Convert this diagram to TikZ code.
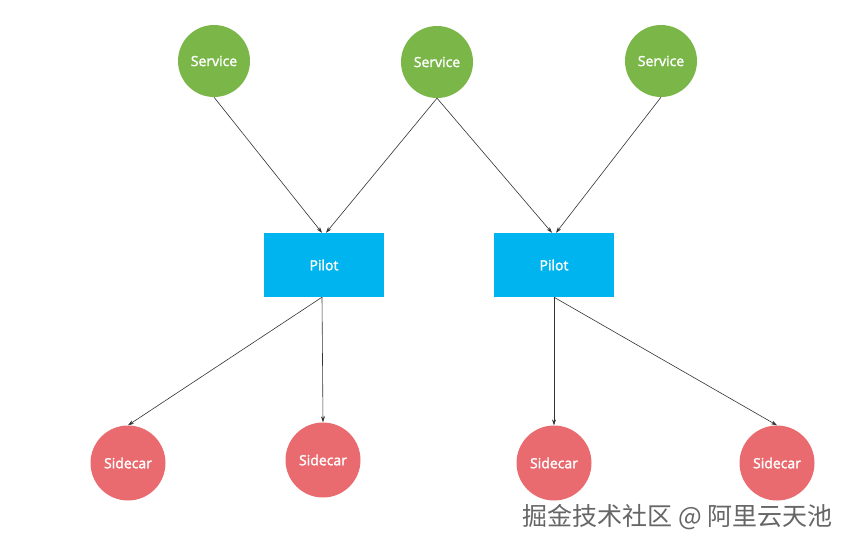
\documentclass[tikz,border=0pt]{standalone}
\usepackage{fontspec}
\setmainfont{Open Sans}
\newfontfamily\semib{Open Sans}[FakeBold=1.8]
\newfontfamily\cjk{Noto Sans CJK SC}
\usetikzlibrary{arrows.meta}
\definecolor{sgreen}{HTML}{7AB648}
\definecolor{pblue}{HTML}{00B4F0}
\definecolor{sred}{HTML}{EA6B6F}
\begin{document}
\begin{tikzpicture}[x=1pt,y=-1pt,
  svc/.style={circle,fill=sgreen,minimum size=72pt,inner sep=0,text=white,font=\semib\fontsize{14}{16}\selectfont},
  sc/.style={circle,fill=sred,minimum size=75pt,inner sep=0,text=white,font=\semib\fontsize{14}{16}\selectfont},
  pil/.style={rectangle,fill=pblue,minimum width=120pt,minimum height=64pt,inner sep=0,text=white,font=\semib\fontsize{14}{16}\selectfont},
  arr/.style={draw=black!80,line width=0.6pt,-{Stealth[length=6pt,width=4pt]}}]
\useasboundingbox[fill=white] (0,0) rectangle (852,549);
\node[svc] (s1) at (214,61) {Service};
\node[svc] (s2) at (437,62) {Service};
\node[svc] (s3) at (661,61) {Service};
\node[pil] (p1) at (324,265) {Pilot};
\node[pil] (p2) at (554,265) {Pilot};
\node[sc] (c1) at (128,463) {Sidecar};
\node[sc] (c2) at (323,460) {Sidecar};
\node[sc] (c3) at (554,463) {Sidecar};
\node[sc] (c4) at (777,463) {Sidecar};
\coordinate (p1a) at ([xshift=-2pt]p1.north);
\coordinate (p1b) at ([xshift=2pt]p1.north);
\coordinate (p2a) at ([xshift=-2pt]p2.north);
\coordinate (p2b) at ([xshift=2pt]p2.north);
\coordinate (p1s) at ([xshift=-2pt]p1.south);
\draw[arr] (s1.south) -- (p1a);
\draw[arr] (s2.south) -- (p1b);
\draw[arr] (s2.south) -- (p2a);
\draw[arr] (s3.south) -- (p2b);
\draw[arr] (p1s) -- (c1.north);
\draw[arr] (p1s) -- (c2.north);
\draw[arr] (p2.south) -- (c3.north);
\draw[arr] (p2.south) -- (c4.north);
\node[text=black!60,font=\cjk\fontsize{25}{28}\selectfont,anchor=east] (wm) at (836,517) {掘金技术社区 @ 阿里云天池};
\end{tikzpicture}
\end{document}
